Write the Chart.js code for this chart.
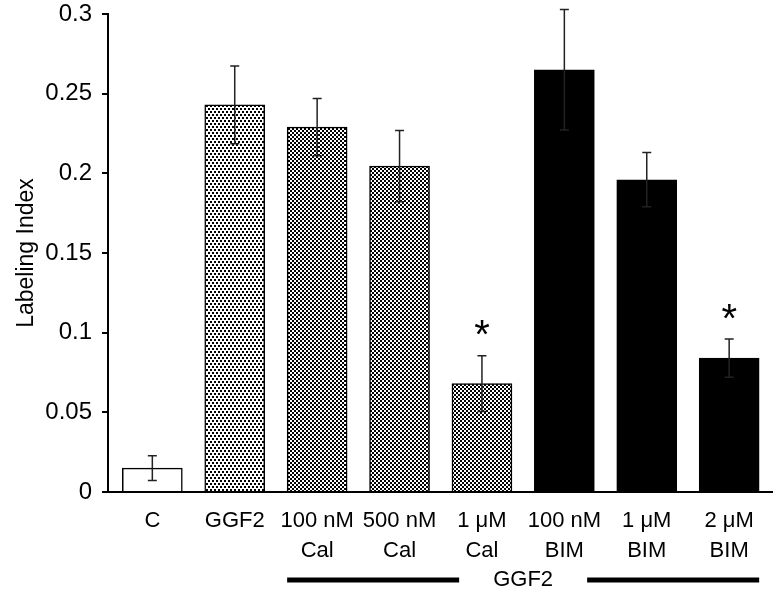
<!DOCTYPE html>
<html><head><meta charset="utf-8">
<script src="https://cdn.jsdelivr.net/npm/chart.js@4.4.0/dist/chart.umd.min.js"></script>
<style>html,body{margin:0;padding:0;background:#fff}#wrap{width:773px;height:600px}</style>
</head><body><div id="wrap"><canvas id="c" width="773" height="600"></canvas></div>
<script>
// ---- data ----
const categories = [["C"],["GGF2"],["100 nM","Cal"],["500 nM","Cal"],["1 μM","Cal"],["100 nM","BIM"],["1 μM","BIM"],["2 μM","BIM"]];
const labelingIndex = [0.015, 0.243, 0.229, 0.2045, 0.068, 0.265, 0.196, 0.084];
const errorSEM = [0.0078, 0.0244, 0.018, 0.0224, 0.0175, 0.0378, 0.017, 0.012];
const significant = [false, false, false, false, true, false, false, true];
const yTicks = [0, 0.05, 0.1, 0.15, 0.2, 0.25, 0.3];
const groupLabel = "GGF2";
const groupRange = [2, 7];
const fillKinds = ["white", "dots", "checker", "checker", "checker", "black", "black", "black"];

// ---- styles ----
const FONT = "'Liberation Sans', Arial, sans-serif";
function makeFill(kind) {
  if (kind === "white") return "#ffffff";
  if (kind === "black") return "#000000";
  const c = document.createElement("canvas");
  const ctx = c.getContext("2d");
  if (kind === "dots") {
    c.width = 4; c.height = 6;
    ctx.fillStyle = "#fff"; ctx.fillRect(0, 0, 4, 6);
    ctx.fillStyle = "#000";
    ctx.fillRect(0, 0, 2, 2); ctx.fillRect(2, 3, 2, 2);
  } else {
    c.width = 4; c.height = 4;
    ctx.fillStyle = "#fff"; ctx.fillRect(0, 0, 4, 4);
    ctx.fillStyle = "#000";
    ctx.fillRect(0, 0, 2, 2); ctx.fillRect(2, 2, 2, 2);
  }
  return ctx.createPattern(c, "repeat");
}

const annotations = {
  id: "annotations",
  afterDatasetsDraw(chart) {
    const ctx = chart.ctx;
    const ys = chart.scales.y, xs = chart.scales.x;
    const meta = chart.getDatasetMeta(0);
    ctx.save();
    // error bars
    labelingIndex.forEach((v, i) => {
      const x = meta.data[i].x;
      const yTop = ys.getPixelForValue(v + errorSEM[i]);
      const yBot = ys.getPixelForValue(v - errorSEM[i]);
      ctx.strokeStyle = "#222";
      ctx.lineWidth = 1.5;
      ctx.beginPath();
      ctx.moveTo(x, yBot); ctx.lineTo(x, yTop);
      ctx.moveTo(x - 4.5, yTop); ctx.lineTo(x + 4.5, yTop);
      ctx.moveTo(x - 4.5, yBot); ctx.lineTo(x + 4.5, yBot);
      ctx.stroke();
      if (significant[i]) {
        ctx.fillStyle = "#000";
        ctx.font = "300 40px " + FONT;
        ctx.textAlign = "center";
        ctx.textBaseline = "alphabetic";
        ctx.fillText("*", x, yTop - 7.5);
      }
    });
    // group bar annotation
    const half = meta.data[0].width / 2;
    const x0 = xs.getPixelForValue(groupRange[0]) - half;
    const x1 = xs.getPixelForValue(groupRange[1]) + half;
    const xm = (x0 + x1) / 2;
    const y = 580;
    ctx.fillStyle = "#000";
    ctx.font = "22px " + FONT;
    ctx.textAlign = "center";
    ctx.textBaseline = "middle";
    ctx.fillText(groupLabel, xm, y);
    ctx.lineWidth = 5;
    ctx.strokeStyle = "#000";
    ctx.beginPath();
    ctx.moveTo(x0, y); ctx.lineTo(xm - 64, y);
    ctx.moveTo(xm + 64, y); ctx.lineTo(x1, y);
    ctx.stroke();
    ctx.restore();
  }
};

new Chart(document.getElementById("c"), {
  type: "bar",
  data: {
    datasets: [{
      data: labelingIndex.map((v, i) => ({ x: i, y: v })),
      backgroundColor: fillKinds.map(makeFill),
      borderColor: "#000",
      borderWidth: 1.5,
      barThickness: 60
    }]
  },
  options: {
    responsive: false,
    animation: false,
    devicePixelRatio: 1,
    layout: { padding: { top: 14, right: 0, bottom: 0, left: 0 } },
    plugins: { legend: { display: false }, tooltip: { enabled: false } },
    scales: {
      x: {
        type: "linear",
        offset: false,
        min: -0.538, max: 7.532,
        afterBuildTicks: s => { s.ticks = categories.map((_, i) => ({ value: i })); },
        afterFit: s => { s.height = 108; s.paddingLeft = 0; s.paddingRight = 0; },
        ticks: {
          autoSkip: false, maxRotation: 0, color: "#000",
          font: { family: FONT, size: 22, lineHeight: 1.35 }, padding: 14,
          callback: v => categories[v]
        },
        grid: { display: false, drawTicks: false, offset: false },
        border: { display: true, color: "#000", width: 2 }
      },
      y: {
        min: 0, max: 0.3,
        afterBuildTicks: s => { s.ticks = yTicks.map(v => ({ value: v })); },
        afterFit: s => { s.width = 108; s.paddingTop = 0; s.paddingBottom = 0; },
        ticks: {
          color: "#000", font: { family: FONT, size: 24 }, padding: 10,
          callback: v => String(v)
        },
        grid: { drawOnChartArea: false, drawTicks: true, tickLength: 6, color: "#000", lineWidth: 2 },
        border: { display: true, color: "#000", width: 2 },
        title: { display: true, text: "Labeling Index", color: "#000", font: { family: FONT, size: 23 }, padding: { top: 13, bottom: 2 } }
      }
    }
  },
  plugins: [annotations]
});
</script></body></html>
